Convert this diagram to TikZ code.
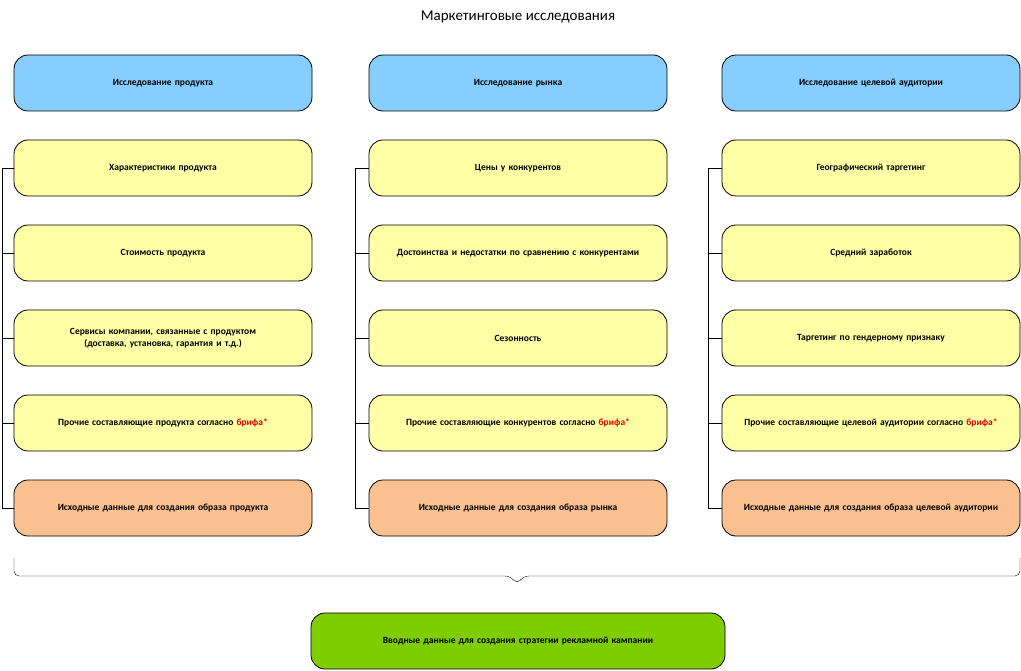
\documentclass[tikz,border=0pt]{standalone}
\usepackage{fontspec}
\setmainfont{Carlito}
\usetikzlibrary{positioning}
\definecolor{hdrblue}{HTML}{86CEFF}
\definecolor{itemyellow}{HTML}{FFFFA6}
\definecolor{resorange}{HTML}{FAC090}
\definecolor{fingreen}{HTML}{7FCC00}
\definecolor{bredred}{HTML}{E00000}
\newcommand{\brief}{\textcolor{bredred}{брифа*}}

\begin{document}
\begin{tikzpicture}[x=1pt,y=-1pt,
  box/.style={draw,thick,rounded corners=14pt,minimum width=298pt,minimum height=56pt,
    text width=280pt,align=center,font=\fontsize{9.5}{12}\selectfont\bfseries,inner sep=0pt},
  hdr/.style={box,fill=hdrblue},
  item/.style={box,fill=itemyellow},
  res/.style={box,fill=resorange},
  link/.style={thin}]
  \useasboundingbox (0,0) rectangle (1021,671);
  \node (title) at (518,17) {\fontsize{15}{18}\selectfont Маркетинговые исследования};

  % column 1
  \node[hdr]  (p0) at (163,83)  {Исследование продукта};
  \node[item] (p1) at (163,168) {Характеристики продукта};
  \node[item] (p2) at (163,253) {Стоимость продукта};
  \node[item] (p3) at (163,338) {Сервисы компании, связанные с продуктом (доставка, установка, гарантия и т.д.)};
  \node[item] (p4) at (163,423) {Прочие составляющие продукта согласно \brief};
  \node[res]  (p5) at (163,508) {Исходные данные для создания образа продукта};

  % column 2
  \node[hdr]  (m0) at (518,83)  {Исследование рынка};
  \node[item] (m1) at (518,168) {Цены у конкурентов};
  \node[item] (m2) at (518,253) {Достоинства и недостатки по сравнению с конкурентами};
  \node[item] (m3) at (518,338) {Сезонность};
  \node[item] (m4) at (518,423) {Прочие составляющие конкурентов согласно \brief};
  \node[res]  (m5) at (518,508) {Исходные данные для создания образа рынка};

  % column 3
  \node[hdr]  (a0) at (871,83)  {Исследование целевой аудитории};
  \node[item] (a1) at (871,168) {Географический таргетинг};
  \node[item] (a2) at (871,253) {Средний заработок};
  \node[item] (a3) at (871,338) {Таргетинг по гендерному признаку};
  \node[item] (a4) at (871,423) {Прочие составляющие целевой аудитории согласно \brief};
  \node[res]  (a5) at (871,508) {Исходные данные для создания образа целевой аудитории};

  % trunks
  \draw[link] (p1.west) -| ([xshift=-11pt]p5.west) -- (p5.west);
  \foreach \n in {p2,p3,p4} \draw[link] (\n.west) -- ++(-11,0);
  \draw[link] (m1.west) -| ([xshift=-13pt]m5.west) -- (m5.west);
  \foreach \n in {m2,m3,m4} \draw[link] (\n.west) -- ++(-13,0);
  \draw[link] (a1.west) -| ([xshift=-13pt]a5.west) -- (a5.west);
  \foreach \n in {a2,a3,a4} \draw[link] (\n.west) -- ++(-13,0);

  % brace
  \coordinate (bl) at (14,558);
  \coordinate (br) at (1020,558);
  \coordinate (tip) at (517,584);
  \draw[link,rounded corners=5pt] (bl) |- ([xshift=-7pt]tip |- 0,576) -- (tip) -- ([xshift=7pt]tip |- 0,576) -| (br);

  \node[box,fill=fingreen,minimum width=414pt,text width=400pt] (final) at (518,641)
    {Вводные данные для создания стратегии рекламной кампании};
\end{tikzpicture}
\end{document}
